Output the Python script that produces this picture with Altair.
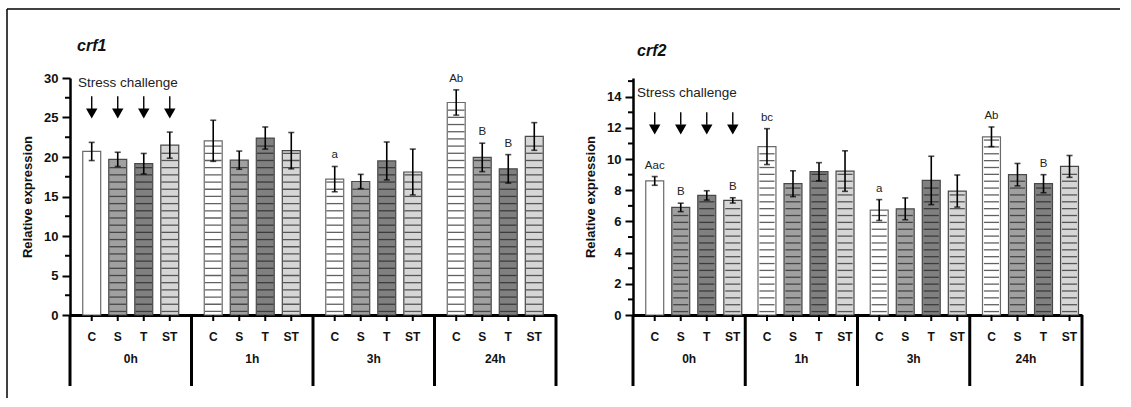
import altair as alt
import pandas as pd

FONT = "Liberation Sans"

groups = ["0h", "1h", "3h", "24h"]
conds = ["C", "S", "T", "ST"]
fill_colors = ["#ffffff", "#a0a0a0", "#808080", "#d6d6d6"]

# crf1 (left panel)
crf1_mean = [20.7, 19.7, 19.15, 21.5,
             22.05, 19.6, 22.4, 20.8,
             17.2, 16.9, 19.5, 18.1,
             26.9, 19.95, 18.5, 22.6]
crf1_err = [1.15, 0.9, 1.3, 1.65,
            2.6, 1.15, 1.4, 2.3,
            1.6, 0.9, 2.4, 2.9,
            1.6, 1.8, 1.8, 1.75]
crf1_lab = ["", "", "", "",
            "", "", "", "",
            "a", "", "", "",
            "Ab", "B", "B", ""]
crf1_major = [0, 5, 10, 15, 20, 25, 30]
crf1_minor = [2.5, 7.5, 12.5, 17.5, 22.5, 27.5]

# crf2 (right panel)
crf2_mean = [8.6, 6.9, 7.67, 7.35,
             10.8, 8.42, 9.19, 9.23,
             6.73, 6.81, 8.63, 7.95,
             11.43, 9.0, 8.42, 9.53]
crf2_err = [0.28, 0.27, 0.3, 0.17,
            1.15, 0.83, 0.58, 1.3,
            0.67, 0.7, 1.55, 1.03,
            0.63, 0.72, 0.58, 0.7]
crf2_lab = ["Aac", "B", "", "B",
            "bc", "", "", "",
            "a", "", "", "",
            "Ab", "", "B", ""]
crf2_major = [0, 2, 4, 6, 8, 10, 12, 14]
crf2_minor = [1, 3, 5, 7, 9, 11, 13, 15]

stress_text = "Stress challenge"
y_title = "Relative expression"


def panel(gene, mean, err, lab, ymax, major, minor, width, height,
          stripe_start, stripe_step, stress_y, arrow_top, arrow_bot, head_y,
          gene_dx, gene_y, stress_dx, frame):
    df = pd.DataFrame({
        "group": [g for g in groups for _ in conds],
        "cond": conds * len(groups),
        "mean": mean,
        "err": err,
        "lab": lab,
    })
    df["lo"] = df["mean"] - df["err"]
    df["hi"] = df["mean"] + df["err"]

    gw = width / 4.0
    step = gw / (4 - 0.31 + 2 * 0.49)
    bw = step * 0.69

    xs = alt.Scale(domain=groups, paddingInner=0, paddingOuter=0)
    xax = alt.Axis(title=None, ticks=False, tickSize=0, labelPadding=38,
                   labelFont=FONT, labelFontWeight="bold", labelFontSize=12,
                   labelColor="#111", domainWidth=3, domainColor="#000",
                   labelAngle=0)

    def X(**kw):
        return alt.X("group:N", scale=xs, axis=xax, **kw)

    xo = alt.XOffset("cond:N", scale=alt.Scale(domain=conds, paddingInner=0.31,
                                                paddingOuter=0.49))
    ys = alt.Scale(domain=[0, ymax], nice=False, zero=True)
    yax = alt.Axis(values=major, tickSize=8, tickWidth=2, tickColor="#000",
                   domainWidth=2.5, domainColor="#000", grid=False,
                   labelFont=FONT, labelFontWeight="bold", labelFontSize=13,
                   labelColor="#111", labelPadding=4, title=y_title,
                   titleFont=FONT, titleFontWeight="bold", titleFontSize=13,
                   titlePadding=9, titleColor="#111")

    def Y(field, **kw):
        return alt.Y(field, type="quantitative", scale=ys, axis=yax, **kw)

    base = alt.Chart(df)

    bars = base.mark_bar(strokeWidth=1.2).encode(
        x=X(), xOffset=xo, y=Y("mean"),
        fill=alt.Fill("cond:N", scale=alt.Scale(domain=conds, range=fill_colors), legend=None),
        stroke=alt.condition("datum.cond == 'C'", alt.value("#6a6a6a"), alt.value("#484848")),
    )

    stripes = base.transform_filter(
        "!(datum.group == '0h' && datum.cond == 'C')"
    ).transform_calculate(
        s=f"sequence({stripe_start}, datum.mean - {stripe_step * 0.35}, {stripe_step})"
    ).transform_flatten(["s"]).mark_tick(
        thickness=1.3, size=bw - 1.5, color="#1e1e1e"
    ).encode(x=X(), xOffset=xo, y=Y("s"))

    err_rule = base.mark_rule(color="#000", strokeWidth=1.6).encode(
        x=X(), xOffset=xo, y=Y("lo"), y2="hi")
    cap_lo = base.mark_tick(color="#000", thickness=1.6, size=6).encode(
        x=X(), xOffset=xo, y=Y("lo"))
    cap_hi = base.mark_tick(color="#000", thickness=1.6, size=6).encode(
        x=X(), xOffset=xo, y=Y("hi"))

    labels = base.transform_filter("datum.lab != ''").mark_text(
        baseline="bottom", dy=-6, font=FONT, fontSize=11.5, color="#222"
    ).encode(x=X(), xOffset=xo, y=Y("hi"), text="lab:N")

    # arrows over the 0h bars
    adf = pd.DataFrame({"group": ["0h"] * 4, "cond": conds,
                        "top": [arrow_top] * 4, "bot": [arrow_bot] * 4,
                        "head": [head_y] * 4})
    arrow_line = alt.Chart(adf).mark_rule(color="#000", strokeWidth=1.4).encode(
        x=X(), xOffset=xo, y=Y("top"), y2="bot")
    arrow_head = alt.Chart(adf).mark_point(
        shape="triangle-down", filled=True, color="#000", size=130, opacity=1
    ).encode(x=X(), xOffset=xo, y=Y("head"))

    sdf = pd.DataFrame({"group": ["0h"], "y": [stress_y], "t": [stress_text]})
    stress = alt.Chart(sdf).mark_text(
        align="left", baseline="middle", dx=stress_dx, font=FONT, fontSize=13.5,
        color="#222"
    ).encode(x=X(bandPosition=0), y=Y("y"), text="t:N")

    # group dividers below the axis
    ddf = pd.DataFrame({"group": groups})
    div_start = alt.Chart(ddf).mark_rule(color="#000", strokeWidth=3).encode(
        x=X(bandPosition=0), y=alt.value(height), y2=alt.value(height + 71))
    edf = pd.DataFrame({"group": [groups[-1]]})
    div_end = alt.Chart(edf).mark_rule(color="#000", strokeWidth=3).encode(
        x=X(bandPosition=1), y=alt.value(height), y2=alt.value(height + 71))

    bar_ticks = base.mark_rule(color="#000", strokeWidth=2).encode(
        x=X(), xOffset=xo, y=alt.value(height), y2=alt.value(height + 6))
    cond_labels = base.mark_text(
        baseline="middle", font=FONT, fontSize=12, fontWeight="bold", color="#111"
    ).encode(x=X(), xOffset=xo, y=alt.value(height + 22), text="cond:N")

    mdf = pd.DataFrame({"v": minor})
    minor_ticks = alt.Chart(mdf).mark_rule(color="#000", strokeWidth=2).encode(
        x=alt.value(-5), x2=alt.value(0), y=Y("v"))

    tdf = pd.DataFrame({"t": [gene]})
    gene_title = alt.Chart(tdf).mark_text(
        align="left", baseline="alphabetic", font=FONT, fontSize=16,
        fontWeight="bold", fontStyle="italic", color="#111"
    ).encode(x=alt.value(gene_dx), y=alt.value(gene_y), text="t:N")

    layers = [bars, stripes, err_rule, cap_lo, cap_hi, labels, arrow_line,
              arrow_head, stress, div_start, div_end, bar_ticks, cond_labels,
              minor_ticks, gene_title]

    if frame:
        fdf = pd.DataFrame({"k": [0]})
        frame_left = alt.Chart(fdf).mark_rule(color="#000", strokeWidth=1.5).encode(
            x=alt.value(-63), y=alt.value(-69), y2=alt.value(320))
        frame_top = alt.Chart(fdf).mark_rule(color="#000", strokeWidth=1.5).encode(
            x=alt.value(-63), x2=alt.value(1050), y=alt.value(-69))
        layers += [frame_left, frame_top]

    return alt.layer(*layers).properties(width=width, height=height)


left = panel("crf1", crf1_mean, crf1_err, crf1_lab, 30, crf1_major, crf1_minor,
             486, 237, 0.45, 0.91, 29.4, 27.7, 26.0, 25.5, 7, -27, 8, True)
right = panel("crf2", crf2_mean, crf2_err, crf2_lab, 15.2, crf2_major, crf2_minor,
              449, 237, 0.22, 0.44, 14.22, 13.0, 12.2, 11.9, 4, -22, 4, False)

chart = alt.hconcat(left, right, spacing=77, bounds="flush").properties(
    padding={"left": 6, "top": 8, "right": 0, "bottom": 0}
).configure_view(stroke=None)

chart.save("out.html", embed_options={"renderer": "svg", "actions": False})
